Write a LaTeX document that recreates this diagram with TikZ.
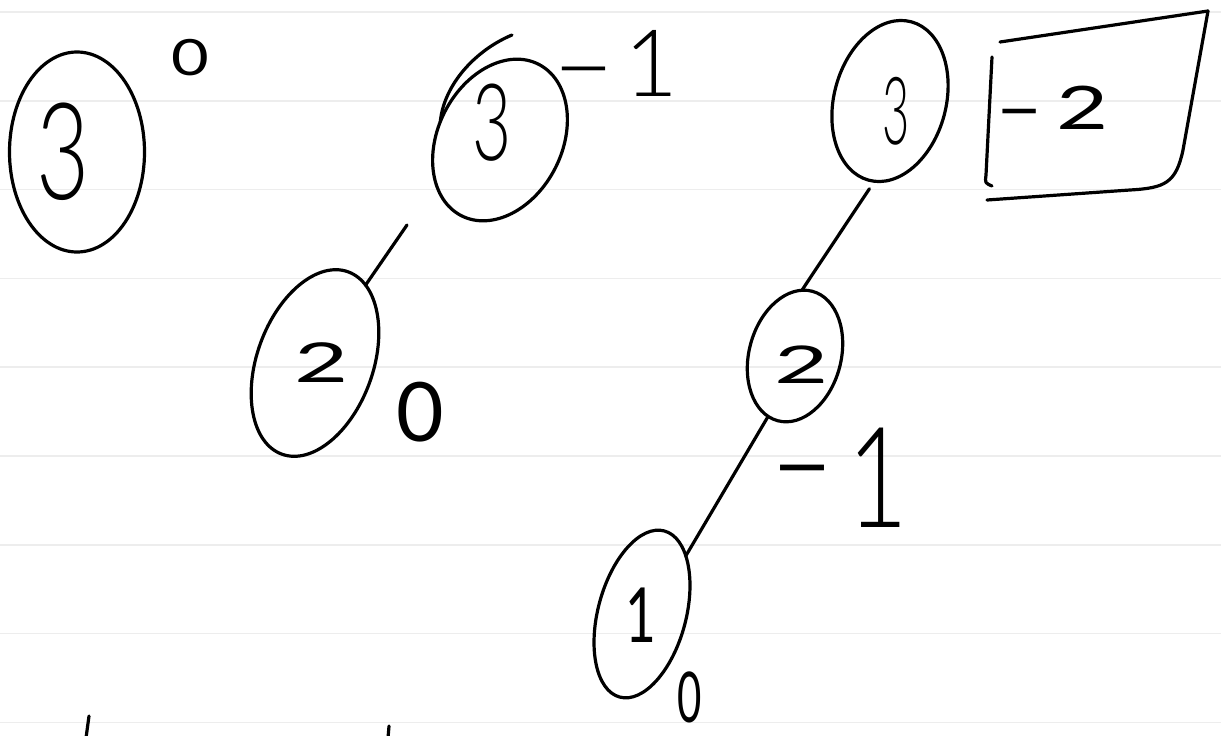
\documentclass[tikz,border=0pt]{standalone}
\usepackage{fontspec}
\newfontfamily\hand{Lato Light}
\newfontfamily\handr{Lato}
\usetikzlibrary{shapes.geometric}
\newcommand\fs[1]{\fontsize{#1}{#1}\selectfont}
\newcommand\longdash[1]{\scalebox{#1}[1]{-}}
\tikzset{
  pen/.style={line width=3.2pt, line cap=round, line join=round, black},
  oval/.style={pen, draw, ellipse, inner sep=0pt, outer sep=0pt},
  digit/.style={inner sep=0pt, outer sep=0pt},
  rule/.style={line width=1.6pt, color=black!7},
}
\begin{document}
\begin{tikzpicture}[x=1pt,y=-1pt]
\fill[white] (0,0) rectangle (1221,736);
\useasboundingbox (0,0) rectangle (1221,736);
\foreach \yy in {12,100.8,...,723} \draw[rule] (0,\yy) -- (1221,\yy);

% circles
\node[oval, minimum width=135pt, minimum height=200pt] (A) at (77,152) {};
\node[oval, minimum width=170pt, minimum height=124pt, rotate=63] (B) at (500,140) {};
\node[oval, minimum width=194pt, minimum height=116pt, rotate=70] (C) at (315,363) {};
\node[oval, minimum width=164pt, minimum height=112pt, rotate=75] (D) at (890,101) {};
\node[oval, minimum width=134pt, minimum height=92pt, rotate=75] (E) at (795,356) {};
\node[oval, minimum width=172pt, minimum height=88pt, rotate=75] (F) at (642,614) {};
% overshooting pen stroke of B
\draw[pen] (B.100) .. controls (444,84) and (476,50) .. (512,35);

% keys
\node[digit, font=\hand\fs{135}, xscale=0.68] (A3) at (63,152) {3};
\node[digit, font=\hand\fs{107}, xscale=0.63] (B3) at (492,123) {3};
\node[digit, font=\handr\fs{55}, xscale=1.7] (C2) at (322,363) {2};
\node[digit, font=\hand\fs{94}, xscale=0.5] (D3) at (896,111) {3};
\node[digit, font=\handr\fs{52}, xscale=1.8] (E2) at (802,365) {2};
\node[digit, font=\handr\fs{76}, xscale=0.7] (F1) at (641,615) {1};

% balance factors
\node[digit, font=\handr\fs{50}, xscale=1.3] (a0) at (190,58) {0};
\node[digit, font=\hand\fs{93}] (b1) at (614,63) {\longdash{2}\kern6pt1};
\node[digit, font=\handr\fs{82}] (c0) at (420,412) {0};
\node[digit, font=\handr\fs{60}, xscale=1.5] (d2) at (1052,108) {\longdash{1.5}\kern8pt2};
\node[digit, font=\hand\fs{140}, xscale=0.75] (e1) at (838,478) {\raisebox{18pt}{\longdash{1.8}}\kern14pt1};
\node[digit, font=\handr\fs{70}, xscale=0.6] (f0) at (690,697) {0};

% edges
\coordinate (bcEnd) at (407,225);
\draw[pen] (C.347) -- (bcEnd);
\draw[pen, shorten <=9pt] (D.184) -- (E.9);
\draw[pen] (E.171) -- (F.338);

% box around -2
\draw[pen] (1000,42) -- (1208,11);
\draw[pen] (1208,11) -- (1183,150) .. controls (1176,183) and (1165,188) .. (1130,190) -- (987,200);
\draw[pen] (992,57) -- (986,175) .. controls (985,183) .. (992,186);

% cut-off strokes at the bottom edge
\draw[pen] (89,716) -- (86,738);
\draw[pen] (389,726) -- (388,738);
\end{tikzpicture}
\end{document}
